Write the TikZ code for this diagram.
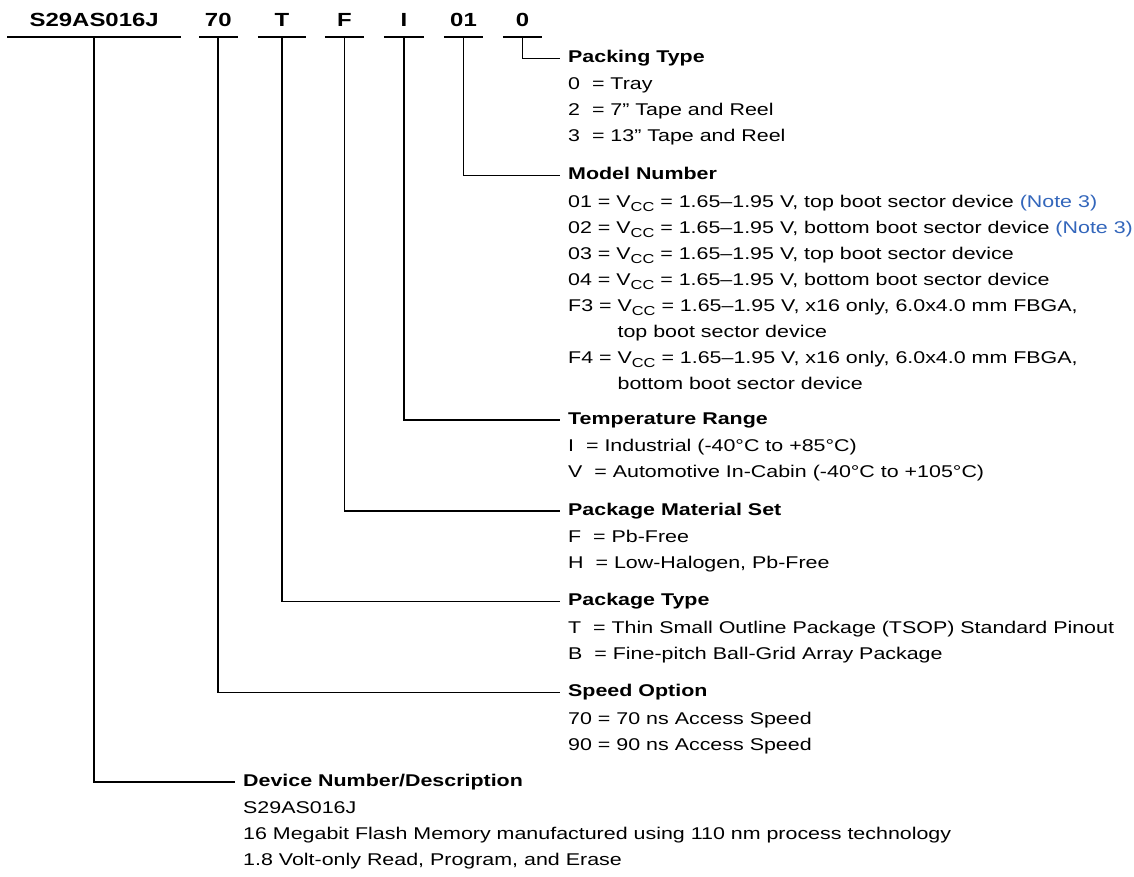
\documentclass[tikz,border=0pt]{standalone}
\usepackage{fontspec}
\setmainfont{Liberation Sans}[FakeStretch=1.26]
\definecolor{noteblue}{RGB}{51,102,187}
\newcommand{\vcc}{V\raisebox{-4.5pt}{\fontsize{13}{13}\selectfont CC}}
\newcommand{\noteref}{\textcolor{noteblue}{(Note 3)}}
\newcommand{\indentline}{\phantom{F3 = }}
\begin{document}
\begin{tikzpicture}[x=1pt, y=-1pt, font=\fontsize{17}{26}\selectfont,
    code/.style={font=\fontsize{19}{19}\selectfont\bfseries, anchor=base,
      inner sep=0pt, text depth=10.7pt},
    head/.style={font=\fontsize{17}{17}\selectfont\bfseries, anchor=west,
      inner xsep=8pt, inner ysep=0pt, text height=12.4pt, text depth=3.6pt},
    list/.style={anchor=north west, align=left, inner sep=0pt}]
  \useasboundingbox (0,0) rectangle (1134,876);
  % part number fields
  \foreach \name/\cx/\w/\lw/\txt in {dev/94.2/173.7/1.8/S29AS016J, spd/218.3/38.7/1.8/70,
      pkg/282/47.7/1.8/T, mat/344.5/39/1.8/F, tmp/404/40/1.8/I,
      mdl/463.5/39/1.2/01, pck/522.5/39/1.2/0} {
    \node[code, minimum width=\w pt] (\name) at (\cx,26) {\txt};
    \draw[line width=\lw pt] (\name.south west) -- (\name.south east);
  }
  % headings
  \node[head] (packh)  at (560,58.3)  {Packing Type};
  \node[head] (modelh) at (560,175.5) {Model Number};
  \node[head] (temph)  at (560,420)   {Temperature Range};
  \node[head] (math)   at (560,511)   {Package Material Set};
  \node[head] (typeh)  at (560,601.5) {Package Type};
  \node[head] (spdh)   at (560,692.5) {Speed Option};
  \node[head] (devh)   at (235,782)   {Device Number/Description};
  % option lists
  \node[list] (packlist) at ([xshift=8pt,yshift=-15pt]packh.base west)
    {0\ \ = Tray\\ 2\ \ = 7” Tape and Reel\\ 3\ \ = 13” Tape and Reel};
  \node[list] (modellist) at ([xshift=8pt,yshift=-15pt]modelh.base west)
    {01 = \vcc{} = 1.65–1.95 V, top boot sector device \noteref\\
     02 = \vcc{} = 1.65–1.95 V, bottom boot sector device \noteref\\
     03 = \vcc{} = 1.65–1.95 V, top boot sector device\\
     04 = \vcc{} = 1.65–1.95 V, bottom boot sector device\\
     F3 = \vcc{} = 1.65–1.95 V, x16 only, 6.0x4.0 mm FBGA,\\
     \indentline top boot sector device\\
     F4 = \vcc{} = 1.65–1.95 V, x16 only, 6.0x4.0 mm FBGA,\\
     \indentline bottom boot sector device};
  \node[list] (templist) at ([xshift=8pt,yshift=-15pt]temph.base west)
    {I\ \ = Industrial (-40°C to +85°C)\\ V\ \ = Automotive In-Cabin (-40°C to +105°C)};
  \node[list] (matlist) at ([xshift=8pt,yshift=-15pt]math.base west)
    {F\ \ = Pb-Free\\ H\ \ = Low-Halogen, Pb-Free};
  \node[list] (typelist) at ([xshift=8pt,yshift=-15pt]typeh.base west)
    {T\ \ = Thin Small Outline Package (TSOP) Standard Pinout\\
     B\ \ = Fine-pitch Ball-Grid Array Package};
  \node[list] (spdlist) at ([xshift=8pt,yshift=-15pt]spdh.base west)
    {70 = 70 ns Access Speed\\ 90 = 90 ns Access Speed};
  \node[list] (devlist) at ([xshift=8pt,yshift=-15pt]devh.base west)
    {S29AS016J\\ 16 Megabit Flash Memory manufactured using 110 nm process technology\\
     1.8 Volt-only Read, Program, and Erase};
  % leaders
  \foreach \c/\h/\lw in {dev/devh/1.8, spd/spdh/1.8, pkg/typeh/1.8, mat/math/1.8,
      tmp/temph/1.8, mdl/modelh/1.2, pck/packh/1.2}
    \draw[line width=\lw pt] (\c.south) |- (\h.west);
\end{tikzpicture}
\end{document}
